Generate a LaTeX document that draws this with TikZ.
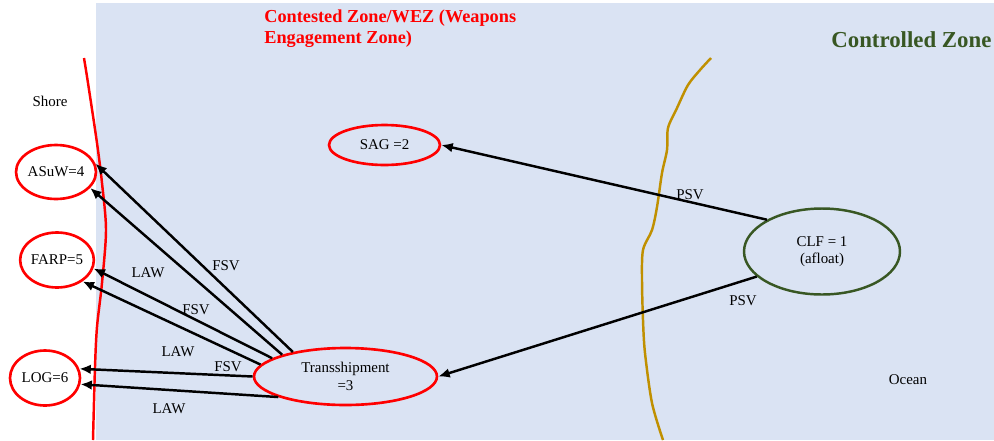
\documentclass[tikz,border=0pt]{standalone}
\usepackage{fontspec}
\setmainfont{Liberation Serif}
\usetikzlibrary{shapes.geometric,arrows.meta}
\definecolor{bgblue}{HTML}{DAE3F3}
\definecolor{zred}{HTML}{FF0000}
\definecolor{zgreen}{HTML}{385723}
\definecolor{zgold}{HTML}{C09000}
\begin{document}
\begin{tikzpicture}[x=0.02cm,y=-0.02cm,
  lbl/.style={font=\fontsize{8.5}{10}\selectfont, inner sep=0pt},
  redell/.style={ellipse, draw=zred, line width=1.5pt, inner sep=0pt, font=\fontsize{8.5}{10}\selectfont, align=center},
  greenell/.style={ellipse, draw=zgreen, line width=1.4pt, inner sep=0pt, font=\fontsize{8.5}{10}\selectfont, align=center},
  arr/.style={-{Latex[length=6.5pt,width=5.5pt]}, line width=1.4pt, black},
  title/.style={font=\bfseries\fontsize{10.4}{11.4}\selectfont, inner sep=0pt}
]
\useasboundingbox (0,0) rectangle (994,440);
\fill[white] (0,0) rectangle (994,440);
\fill[bgblue] (96,3) rectangle (994,440);

% shore line
\draw[zred, line width=1.4pt] plot[smooth] coordinates {(84,58) (88,83) (97,143) (102,183) (106,230) (102,283) (97,327) (95,367) (93,440)};
% controlled-zone line
\draw[zgold, line width=1.4pt] plot[smooth] coordinates {(711,58) (700,70) (688,85) (677,108) (668,128) (667,150) (662,173) (657,207) (652,230) (643,250) (642,280) (643,320) (645,353) (652,403) (663,440)};

% titles
\node[title, text=zred, anchor=base west, align=left] (ttl) at (264,43) {Contested Zone/WEZ (Weapons\\Engagement Zone)};
\node[font=\bfseries\fontsize{13}{15}\selectfont, text=zgreen, anchor=base west, inner sep=0pt] (ctl) at (831,47) {Controlled Zone};
\node[lbl, anchor=base] (shore) at (50,106) {Shore};
\node[lbl, anchor=base] (ocean) at (908,384) {Ocean};

% nodes
\node[redell, minimum width=1.36cm, minimum height=1.08cm] (asuw) at (56,172) {ASuW=4};
\node[redell, minimum width=1.36cm, minimum height=1.10cm] (farp) at (57,260) {FARP=5};
\node[redell, minimum width=1.40cm, minimum height=1.10cm] (log) at (45,378) {LOG=6};
\node[redell, minimum width=2.22cm, minimum height=0.80cm] (sag) at (384.5,145) {SAG =2};
\node[redell, minimum width=3.66cm, minimum height=1.14cm] (trans) at (345.5,376.5) {Transshipment\\=3};
\node[greenell, minimum width=3.12cm, minimum height=1.72cm] (clf) at (822,251.5) {CLF = 1\\(afloat)};

% arrows
\draw[arr] (clf.150) -- (sag.east);
\draw[arr] (clf.201) -- (trans.east);
\draw[arr] (trans.155) -- (asuw.12);
\draw[arr] (trans.161) -- (asuw.-25);
\draw[arr] (trans.166) -- (farp.-13);
\draw[arr] (trans.172) -- (farp.-40);
\draw[arr] (trans.180) -- (log.15);
\draw[arr] (trans.197) -- (log.-10);

% labels
\node[lbl] (psv1) at (690,195) {PSV};
\node[lbl] (psv2) at (743,301) {PSV};
\node[lbl] (fsv1) at (226,266) {FSV};
\node[lbl] (law1) at (148,273) {LAW};
\node[lbl] (fsv2) at (196,310) {FSV};
\node[lbl] (law2) at (178,352) {LAW};
\node[lbl] (fsv3) at (228,367) {FSV};
\node[lbl] (law3) at (169,409) {LAW};
\end{tikzpicture}
\end{document}
